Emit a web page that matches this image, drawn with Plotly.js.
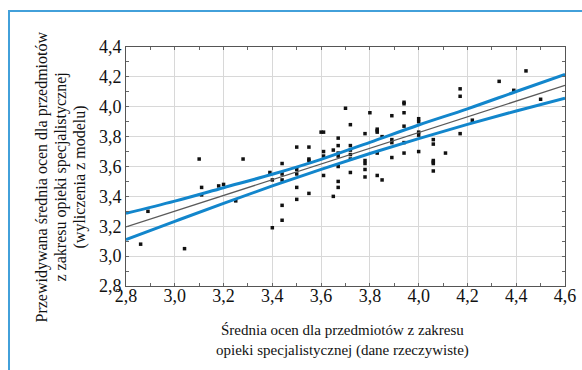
<!DOCTYPE html>
<html>
<head>
<meta charset="utf-8">
<script src="https://cdn.plot.ly/plotly-3.0.1.min.js"></script>
<style>
  html, body { margin: 0; padding: 0; background: #ffffff; }
  #chart { width: 582px; height: 370px; }
</style>
</head>
<body>
<div id="chart"></div>
<script>
// Observed data (actual vs predicted)
const actualX = [2.86, 2.89, 3.04, 3.10, 3.11, 3.11, 3.18, 3.20, 3.25, 3.28,
  3.39, 3.40, 3.40, 3.44, 3.44, 3.44, 3.44, 3.44,
  3.50, 3.50, 3.50, 3.50, 3.50, 3.55, 3.55, 3.55, 3.55,
  3.60, 3.61, 3.61, 3.61, 3.61, 3.65, 3.65,
  3.67, 3.67, 3.67, 3.67, 3.67, 3.67, 3.67, 3.70,
  3.72, 3.72, 3.72, 3.72, 3.72, 3.72,
  3.78, 3.78, 3.78, 3.78, 3.78, 3.80,
  3.83, 3.83, 3.83, 3.83, 3.83, 3.85, 3.85,
  3.89, 3.89, 3.89, 3.89,
  3.94, 3.94, 3.94, 3.94, 3.94, 3.94,
  4.00, 4.00, 4.00, 4.00, 4.00,
  4.06, 4.06, 4.06, 4.06, 4.06, 4.06,
  4.11, 4.17, 4.17, 4.17, 4.22, 4.33, 4.39, 4.44, 4.50];
const predictedY = [3.08, 3.30, 3.05, 3.65, 3.46, 3.41, 3.47, 3.48, 3.37, 3.65,
  3.56, 3.51, 3.19, 3.62, 3.55, 3.51, 3.34, 3.24,
  3.73, 3.58, 3.55, 3.46, 3.38, 3.73, 3.65, 3.64, 3.42,
  3.83, 3.83, 3.70, 3.67, 3.54, 3.71, 3.40,
  3.79, 3.74, 3.69, 3.67, 3.60, 3.50, 3.46, 3.99,
  3.88, 3.74, 3.71, 3.68, 3.65, 3.56,
  3.82, 3.64, 3.62, 3.58, 3.53, 3.96,
  3.85, 3.84, 3.83, 3.69, 3.54, 3.80, 3.51,
  3.94, 3.78, 3.76, 3.66,
  4.03, 4.02, 3.96, 3.87, 3.76, 3.69,
  3.92, 3.90, 3.83, 3.81, 3.70,
  3.78, 3.75, 3.64, 3.63, 3.62, 3.57,
  3.69, 4.12, 4.07, 3.82, 3.91, 4.17, 4.11, 4.24, 4.05];

// Fitted line and confidence band
const fitX = [2.8, 3.0, 3.2, 3.4, 3.6, 3.8, 4.0, 4.2, 4.4, 4.6];
const fitY = [3.196, 3.301, 3.406, 3.512, 3.617, 3.722, 3.827, 3.932, 4.038, 4.143];
const upperY = [3.286, 3.368, 3.458, 3.548, 3.648, 3.762, 3.878, 3.986, 4.102, 4.217];
const lowerY = [3.111, 3.233, 3.353, 3.470, 3.581, 3.687, 3.787, 3.882, 3.972, 4.058];

const xTicks = [2.8, 3.0, 3.2, 3.4, 3.6, 3.8, 4.0, 4.2, 4.4, 4.6];
const yTicks = [2.8, 3.0, 3.2, 3.4, 3.6, 3.8, 4.0, 4.2, 4.4];

const xTitle = 'Średnia ocen dla przedmiotów z zakresu<br>opieki specjalistycznej (dane rzeczywiste)';
const yTitleLines = ['Przewidywana średnia ocen dla przedmiotów',
  'z zakresu opieki specjalistycznej',
  '(wyliczenia z modelu)'];

const serif = 'Liberation Serif';
const blue = 'rgb(18,134,204)';

const traces = [
  { x: actualX, y: predictedY, type: 'scatter', mode: 'markers',
    marker: { symbol: 'square', size: 3.5, color: '#111111' }, hoverinfo: 'x+y' },
  { x: fitX, y: upperY, type: 'scatter', mode: 'lines',
    line: { color: blue, width: 3, shape: 'spline' } },
  { x: fitX, y: lowerY, type: 'scatter', mode: 'lines',
    line: { color: blue, width: 3, shape: 'spline' } },
  { x: fitX, y: fitY, type: 'scatter', mode: 'lines',
    line: { color: '#5a5a5a', width: 1.3 } }
];

function axis(extra) {
  return Object.assign({
    showgrid: true, gridcolor: '#d8d8d8', gridwidth: 1,
    zeroline: false, showline: true, linecolor: '#555555', linewidth: 1,
    mirror: 'ticks', ticks: 'inside', ticklen: 3, tickcolor: '#666666',
    minor: { dtick: 0.1, ticks: 'inside', ticklen: 3, tickcolor: '#666666', showgrid: false },
    tickfont: { family: 'Liberation Serif', size: 18, color: '#111111' },
    tickformat: '.1f'
  }, extra);
}

// plot area in pixels: left 126, width 439, bottom 286, height 239
const yTitleX = [41, 60, 79].map(px => (px - 126) / 439);
const yTitleY = (286 - 177.5) / 239;

const annotations = [
  { text: xTitle, xref: 'paper', yref: 'paper', x: 0.494, y: -0.23,
    xanchor: 'center', yanchor: 'middle', showarrow: false,
    font: { family: serif, size: 15, color: '#111111' } }
];
yTitleLines.forEach((t, i) => annotations.push({
  text: t, xref: 'paper', yref: 'paper', x: yTitleX[i], y: yTitleY,
  xanchor: 'center', yanchor: 'middle', showarrow: false, textangle: -90,
  font: { family: serif, size: 16, color: '#111111' }
}));

const layout = {
  width: 582, height: 370,
  margin: { l: 126, r: 17, t: 47, b: 84 },
  paper_bgcolor: '#ffffff', plot_bgcolor: '#ffffff',
  separators: ',.',
  showlegend: false,
  font: { family: serif, color: '#111111' },
  xaxis: axis({ range: [2.8, 4.6], tickvals: xTicks, ticklabelstandoff: -7 }),
  yaxis: axis({ range: [2.8, 4.4], tickvals: yTicks, ticklabelstandoff: 0 }),
  annotations: annotations,
  shapes: [
    { type: 'rect', xref: 'paper', yref: 'paper',
      x0: -0.2665, x1: 1.2, y0: -0.6, y1: 1.1506,
      line: { color: 'rgb(66,160,218)', width: 2 }, fillcolor: 'rgba(0,0,0,0)' }
  ]
};

Plotly.newPlot('chart', traces, layout, { displayModeBar: false, staticPlot: true });
</script>
</body>
</html>
